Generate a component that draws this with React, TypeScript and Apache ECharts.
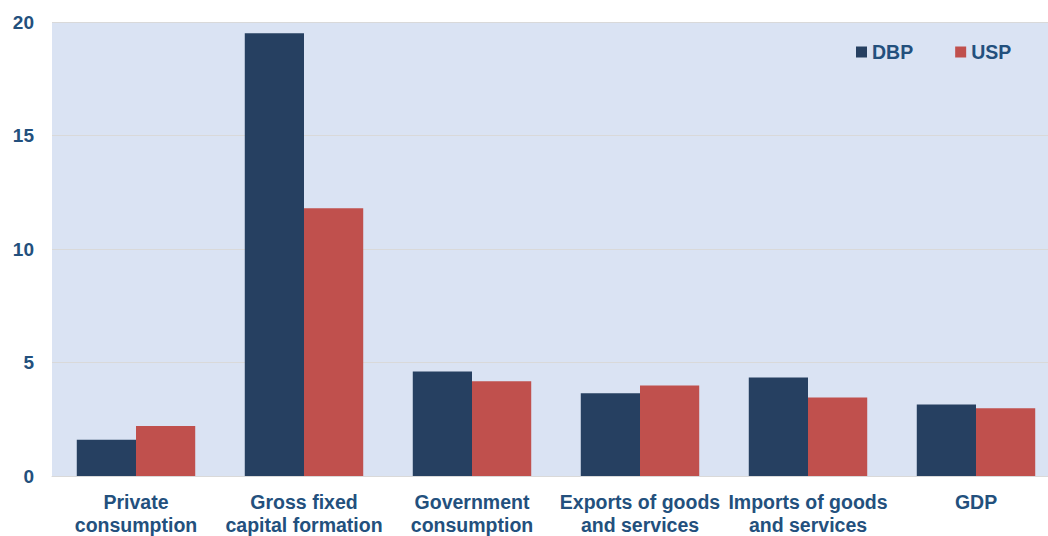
import React, { useEffect, useRef } from "react";
import * as echarts from "echarts";

const categories = [
  "Private\nconsumption",
  "Gross fixed\ncapital formation",
  "Government\nconsumption",
  "Exports of goods\nand services",
  "Imports of goods\nand services",
  "GDP",
];
const dbp = [1.6, 19.5, 4.6, 3.64, 4.34, 3.15];
const usp = [2.2, 11.8, 4.17, 3.99, 3.46, 2.98];
const yTicks = { min: 0, max: 20, interval: 5 };

const TEXT = "#23507d";
const FONT = "'Liberation Sans', Arial, sans-serif";

export default function App() {
  const ref = useRef<HTMLDivElement>(null);
  useEffect(() => {
    document.body.style.margin = "0";
    const chart = echarts.init(ref.current!, null, { renderer: "svg" });
    chart.setOption({
      animation: false,
      textStyle: { fontFamily: FONT },
      legend: {
        left: 851,
        top: 37,
        icon: "rect",
        itemWidth: 11,
        itemHeight: 11,
        itemGap: 42,
        textStyle: { color: TEXT, fontSize: 19.5, fontWeight: "bold", fontFamily: FONT },
        data: ["DBP", "USP"],
      },
      grid: {
        left: 52,
        right: 0,
        top: 22,
        bottom: 58,
        show: true,
        backgroundColor: "#dae3f3",
        borderWidth: 0,
      },
      xAxis: {
        type: "category",
        data: categories,
        axisTick: { show: false },
        axisLine: { show: true, lineStyle: { color: "#d9d9d9", width: 1 } },
        axisLabel: {
          interval: 0,
          color: TEXT,
          fontSize: 19.5,
          fontWeight: "bold",
          fontFamily: FONT,
          lineHeight: 23,
          margin: 14,
        },
      },
      yAxis: {
        type: "value",
        min: yTicks.min,
        max: yTicks.max,
        interval: yTicks.interval,
        axisLine: { show: false },
        axisTick: { show: false },
        splitLine: { lineStyle: { color: "#d9d9d9", width: 1 } },
        axisLabel: {
          color: TEXT,
          fontSize: 19,
          fontWeight: "bold",
          fontFamily: FONT,
          margin: 18,
        },
      },
      series: [
        {
          name: "DBP",
          type: "bar",
          data: dbp,
          barGap: "0%",
          barCategoryGap: "29.5%",
          itemStyle: { color: "#264061" },
        },
        {
          name: "USP",
          type: "bar",
          data: usp,
          barGap: "0%",
          barCategoryGap: "29.5%",
          itemStyle: { color: "#c0504d" },
        },
      ],
    });
    return () => chart.dispose();
  }, []);
  return (
    <div style={{ position: "absolute", left: 0, top: 0, width: 1048, height: 536, overflow: "hidden", background: "#ffffff" }}>
      <div ref={ref} style={{ width: 1060, height: 536 }} />
    </div>
  );
}
